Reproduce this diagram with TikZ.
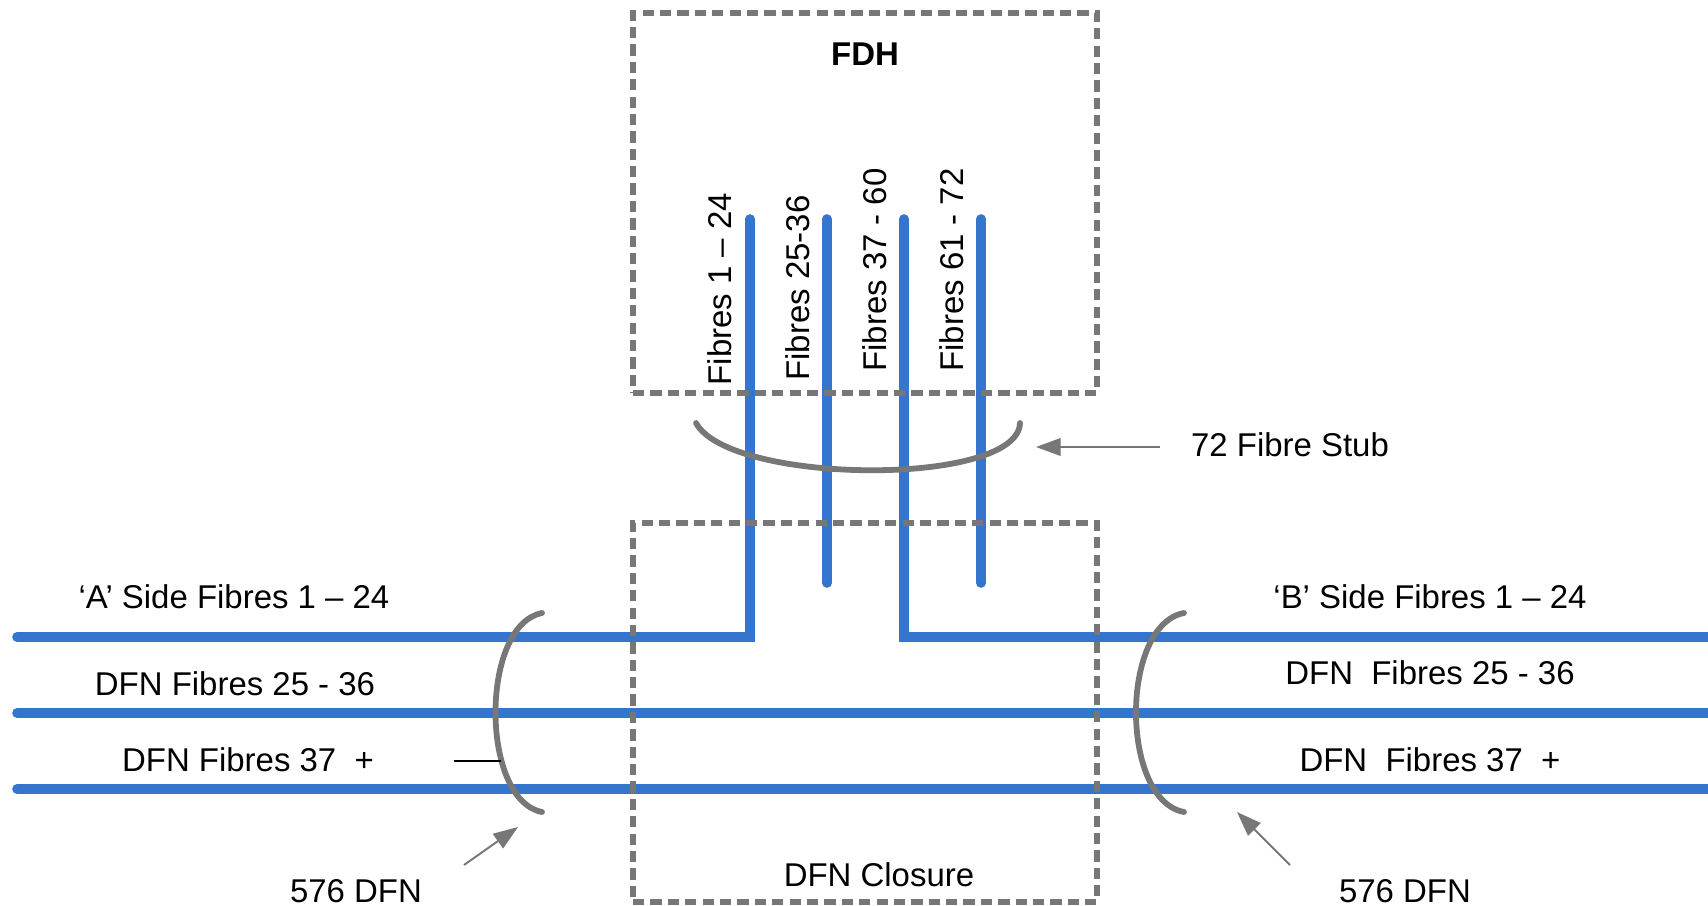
\documentclass[tikz,border=0pt]{standalone}
\usepackage{fontspec}
\setmainfont{Liberation Sans}
\usetikzlibrary{positioning,arrows.meta,calc}
\definecolor{fibreblue}{HTML}{3575CD}
\definecolor{stubgrey}{HTML}{777777}

\begin{document}
\begin{tikzpicture}[
  x=0.02cm, y=-0.02cm,
  font=\fontsize{18.75}{22}\selectfont,
  fibre/.style={draw=fibreblue, line width=5.5pt, line cap=round, line join=miter},
  enclosure/.style={draw=stubgrey, line width=3.8pt, dash pattern=on 6.4pt off 3.5pt,
                    outer sep=0pt, minimum width=464*0.02cm, minimum height=380*0.02cm, inner sep=0pt},
  bundle/.style={draw=stubgrey, line width=3.3pt, line cap=round},
  pointer/.style={draw=stubgrey, line width=1.1pt, -{Triangle[length=14pt,width=10pt]}},
  lbl/.style={inner sep=0pt},
  vlbl/.style={inner sep=0pt, rotate=90}
]
\useasboundingbox (0,0) rectangle (1708,906);

% fibre end points
\foreach \n/\x in {f1/750, f2/827, f3/904, f4/981} {
  \coordinate (\n-top) at (\x,219);
}
\coordinate (f1-bend) at (750,637);
\coordinate (f3-bend) at (904,637);
\coordinate (f2-end) at (827,583);
\coordinate (f4-end) at (981,583);
\coordinate (a-left) at (17,637);
\coordinate (b-right) at (1708,637);
\foreach \n/\y in {m/713, n/789} {
  \coordinate (\n-left) at (17,\y);
  \coordinate (\n-right) at (1708,\y);
}

% fibres
\draw[fibre] (a-left) -- (f1-bend) -- (f1-top);
\draw[fibre] (b-right) -- (f3-bend) -- (f3-top);
\draw[fibre] (f2-top) -- (f2-end);
\draw[fibre] (f4-top) -- (f4-end);
\foreach \n in {m, n} \draw[fibre] (\n-left) -- (\n-right);

% enclosures
\node[enclosure] (fdh) at (865,203) {};
\node[enclosure, minimum height=379*0.02cm] (closure) at (865,712.5) {};
\node[lbl, font=\fontsize{18.75}{22}\selectfont\bfseries, below=16.5pt of fdh.north] (fdhlbl) {FDH};
\node[lbl] (closurelbl) at (879,875) {DFN Closure};

% cable bundles
\coordinate (stub-l) at (696,423);
\coordinate (stub-r) at (1020,423);
\draw[bundle] (stub-l) .. controls (730,485) and (1018,487) .. (stub-r);
\coordinate (aside-t) at (542,613);
\coordinate (aside-b) at (542,812);
\draw[bundle] (aside-t) .. controls (480,625) and (480,800) .. (aside-b);
\coordinate (bside-t) at (1184,613);
\coordinate (bside-b) at (1184,812);
\draw[bundle] (bside-t) .. controls (1120,625) and (1120,800) .. (bside-b);

% fibre labels
\node[vlbl] (l1) at (720,289) {Fibres 1 – 24};
\node[vlbl] (l2) at (798,288) {Fibres 25-36};
\node[vlbl] (l3) at (875,270) {Fibres 37 - 60};
\node[vlbl] (l4) at (952,270) {Fibres 61 - 72};

\node[lbl] (a1) at (234,597) {‘A’ Side Fibres 1 – 24};
\node[lbl] (a2) at (235,684) {DFN Fibres 25 - 36};
\node[lbl] (a3) at (248,760) {DFN Fibres 37\ \ +};
\node[lbl] (b1) at (1430,597) {‘B’ Side Fibres 1 – 24};
\node[lbl] (b2) at (1430,673) {DFN\ \ Fibres 25 - 36};
\node[lbl] (b3) at (1430,760) {DFN\ \ Fibres 37\ \ +};

% call-outs
\node[lbl] (stublbl) at (1290,445) {72 Fibre Stub};
\node[lbl] (dfna) at (356,891) {576 DFN};
\node[lbl] (dfnb) at (1405,891) {576 DFN};
\coordinate (stub-tail) at (1160,447);
\coordinate (stub-tip) at (1036,447);
\coordinate (a-tail) at (464,865);
\coordinate (a-tip) at (518,827);
\coordinate (b-tail) at (1290,865);
\coordinate (b-tip) at (1237,812);
\draw[pointer] (stub-tail) -- (stub-tip);
\draw[pointer] (a-tail) -- (a-tip);
\draw[pointer] (b-tail) -- (b-tip);
\coordinate (lead-l) at (454,761);
\coordinate (lead-r) at (501,761);
\draw[line width=0.7pt] (lead-l) -- (lead-r);
\end{tikzpicture}
\end{document}
